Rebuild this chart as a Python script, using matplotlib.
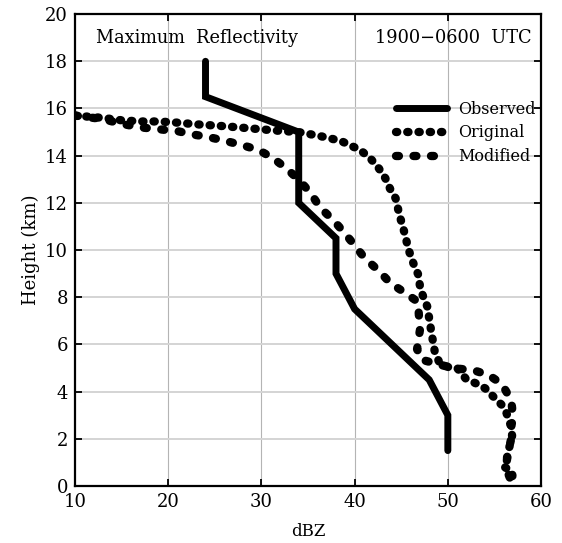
import matplotlib
matplotlib.use("Agg")
import matplotlib.pyplot as plt

# ---- data ----
obs_dbz = [24, 24, 34, 34, 38, 38, 40, 48, 50, 50]
obs_h = [18, 16.5, 15, 12, 10.5, 9, 7.5, 4.5, 3, 1.5]

orig_dbz = [10, 13, 15, 17, 19, 21, 23, 26, 29, 32, 34, 36.3, 38.5, 40.6, 41.7,
            42.6, 43.3, 43.8, 44.4, 44.8, 45.3, 45.8, 46.3, 46.8, 47.0, 47.3,
            47.8, 48.0, 48.2, 48.4, 48.6, 49.1, 50.1, 51.0, 51.9, 53.0, 54.0,
            54.9, 55.8, 56.3, 56.8, 56.9, 56.5, 56.3, 56.1, 56.9, 57.0]
orig_h = [15.7, 15.6, 15.5, 15.45, 15.45, 15.4, 15.33, 15.25, 15.15, 15.05, 15.0,
          14.83, 14.63, 14.24, 13.88, 13.46, 13.04, 12.6, 12.19, 11.5, 10.8, 10.0,
          9.44, 8.98, 8.5, 8.09, 7.6, 7.1, 6.6, 6.14, 5.69, 5.22, 5.03, 5.0, 4.56,
          4.35, 4.14, 3.78, 3.43, 3.08, 2.5, 2.1, 1.5, 1.1, 0.8, 0.6, 0.0]

mod_dbz = [10, 13, 15, 17, 19, 21, 22.6, 24.2, 26.1, 27.9, 29.7, 31.3, 32.8, 34.2,
           35.3, 36.3, 37.7, 38.8, 40.0, 41.1, 42.6, 43.8, 45.4, 46.8, 47.0, 46.7,
           47.2, 50.5, 52.8, 54.4, 55.8, 56.8, 57.0, 56.8, 56.8, 56.5, 56.3, 56.5, 57.0]
mod_h = [15.7, 15.55, 15.35, 15.2, 15.12, 15.04, 14.9, 14.8, 14.63, 14.45, 14.24,
         13.88, 13.42, 12.9, 12.4, 11.8, 11.27, 10.78, 10.2, 9.65, 9.12, 8.61,
         8.19, 7.8, 6.6, 5.8, 5.35, 5.0, 4.9, 4.7, 4.32, 3.64, 2.94, 2.5, 2.0,
         1.5, 1.0, 0.5, 0.0]

xticks = [10, 20, 30, 40, 50, 60]
yticks = [0, 2, 4, 6, 8, 10, 12, 14, 16, 18, 20]

plt.rcParams['font.family'] = ['DejaVu Serif']

fig = plt.figure(figsize=(5.62, 5.43), dpi=100)
ax = fig.add_axes([0.1335, 0.105, 0.8292, 0.869])

for x in xticks[1:-1]:
    ax.axvline(x, color='#b4b4b4', lw=0.8, zorder=0)
for y in yticks[1:-1]:
    ax.axhline(y, color='#d4d4d4', lw=1.4, zorder=0)

ax.plot(obs_dbz, obs_h, color='black', lw=5, solid_capstyle='round',
        solid_joinstyle='miter', label='Observed', zorder=3)
ax.plot(orig_dbz, orig_h, color='black', lw=6, linestyle=(0, (0.15, 1.2)),
        dash_capstyle='round', label='Original', zorder=2)
ax.plot(mod_dbz, mod_h, color='black', lw=6, linestyle=(0, (0.35, 1.75)),
        dash_capstyle='round', label='Modified', zorder=2)

ax.set_xlim(10, 60)
ax.set_ylim(0, 20)
ax.set_xticks(xticks)
ax.set_yticks(yticks)
ax.tick_params(direction='in', length=5, width=1.3, top=True, right=True,
               labelsize=13, pad=5)
for s in ax.spines.values():
    s.set_linewidth(1.6)

ax.set_xlabel('dBZ', fontsize=12, labelpad=9)
ax.set_ylabel('Height (km)', fontsize=13, labelpad=4)

ax.text(0.045, 0.949, 'Maximum  Reflectivity', transform=ax.transAxes,
        fontsize=12.8, ha='left', va='center')
ax.text(0.98, 0.949, '1900\u22120600  UTC', transform=ax.transAxes,
        fontsize=12.8, ha='right', va='center')

leg = ax.legend(loc='upper left', bbox_to_anchor=(0.675, 0.83), frameon=False,
                handlelength=3.2, fontsize=11.5, labelspacing=0.42,
                handletextpad=0.7, borderaxespad=0)

fig.savefig('out.png', dpi=100)
